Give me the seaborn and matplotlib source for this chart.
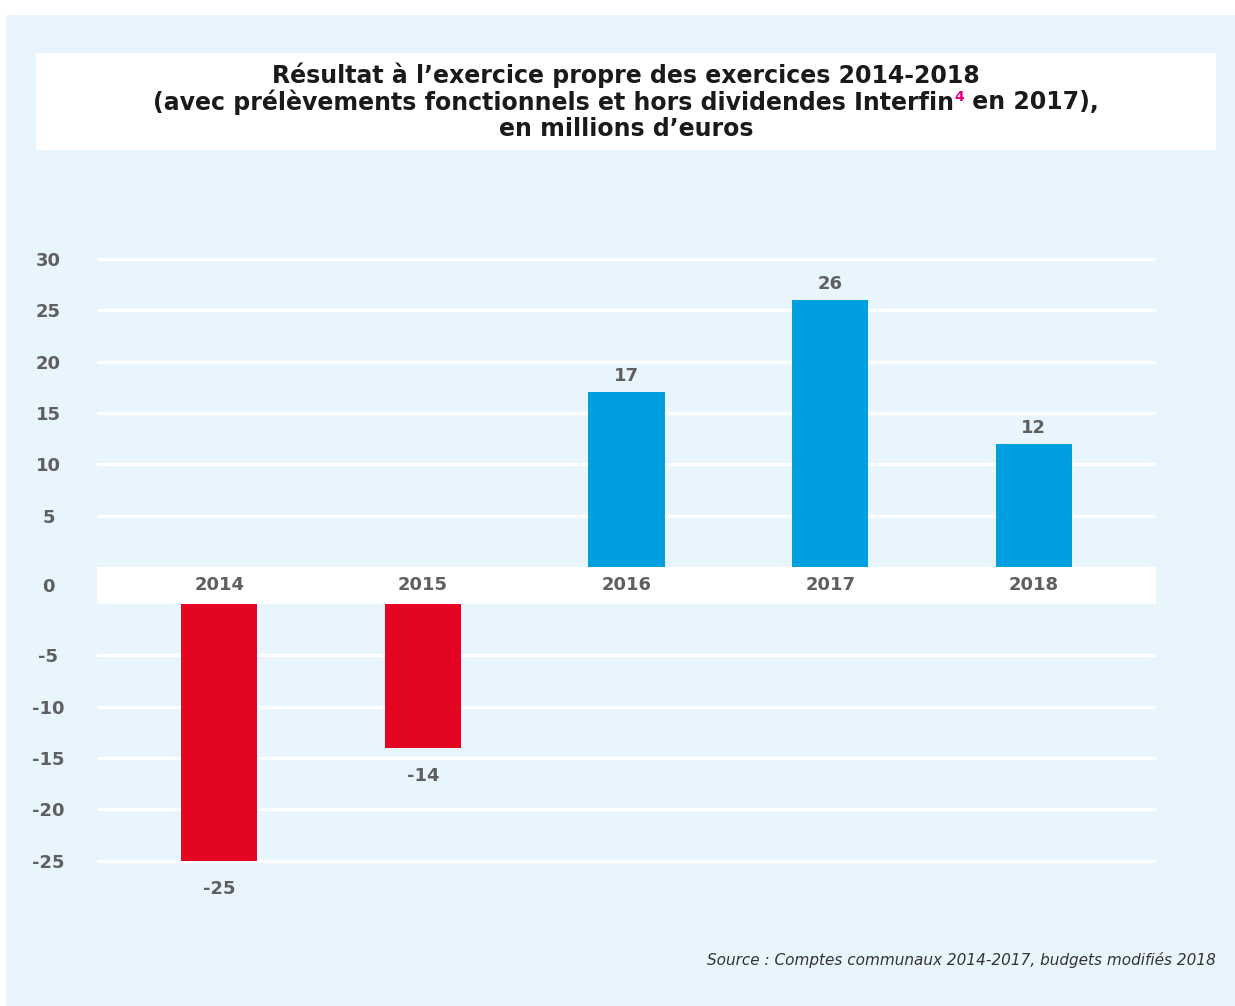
import matplotlib
matplotlib.use("Agg")
import matplotlib.pyplot as plt
from matplotlib.patches import Rectangle
import seaborn as sns
import pandas as pd

# Données : résultat à l'exercice propre, en millions d'euros
years = ["2014", "2015", "2016", "2017", "2018"]
results = [-25, -14, 17, 26, 12]
pos_ticks = [5, 10, 15, 20, 25, 30]
neg_ticks = [-5, -10, -15, -20, -25]

title_line1 = "Résultat à l’exercice propre des exercices 2014-2018"
title_line2a = "(avec prélèvements fonctionnels et hors dividendes Interfin"
title_note = "4"
title_line2b = " en 2017),"
title_line3 = "en millions d’euros"
source_text = "Source : Comptes communaux 2014-2017, budgets modifiés 2018"

BG = "#E9F5FD"
BLUE = "#009FDF"
RED = "#E30521"
GREY = "#5F5F5F"
PINK = "#E6007E"

sns.set_theme(style="white")
plt.rcParams["font.family"] = ["DejaVu Sans"]

df = pd.DataFrame({"annee": years, "resultat": results})
df["signe"] = ["neg" if v < 0 else "pos" for v in results]
palette = {"neg": RED, "pos": BLUE}

W, H = 1235, 1006
fig = plt.figure(figsize=(W / 100, H / 100), dpi=100, facecolor="white")

# Fond bleu clair et cartouche du titre
fig.patches.append(Rectangle((6 / W, 0), 1, 1 - 15 / H, transform=fig.transFigure,
                             facecolor=BG, edgecolor="none", zorder=-10))
fig.patches.append(Rectangle((36 / W, 1 - 150 / H), (1216 - 36) / W, (150 - 53) / H,
                             transform=fig.transFigure, facecolor="white",
                             edgecolor="none", zorder=-5))

left = 97 / W
width = (1156 - 97) / W
px_unit = 10.27
band_top = 567
band_bot = 604

ax_top = fig.add_axes([left, 1 - band_top / H, width, 31 * px_unit / H])
ax_band = fig.add_axes([left, 1 - band_bot / H, width, (band_bot - band_top) / H])
ax_bot_h = 27.5 * px_unit
ax_bot = fig.add_axes([left, 1 - (band_bot + ax_bot_h) / H, width, ax_bot_h / H])

tick_font = dict(fontsize=13, fontweight="bold", color=GREY)

for ax, lim, ticks in [(ax_top, (0, 31), pos_ticks), (ax_bot, (-27.5, 0), neg_ticks)]:
    ax.set_facecolor("none")
    sns.barplot(data=df, x="annee", y="resultat", hue="signe", palette=palette,
                order=years, dodge=False, width=0.375, legend=False, ax=ax,
                saturation=1, linewidth=0, edgecolor="none", zorder=3)
    ax.set_xlim(-0.6, 4.6)
    ax.set_ylim(*lim)
    ax.set_yticks(ticks)
    ax.set_yticklabels([str(t) for t in ticks], **tick_font)
    for lab in ax.get_yticklabels():
        lab.set_horizontalalignment("center")
    ax.tick_params(axis="y", length=0, pad=35)
    ax.set_xticks([])
    ax.set_xlabel("")
    ax.set_ylabel("")
    for t in ticks:
        ax.axhline(t, color="white", lw=2.4, zorder=1)
    for s in ax.spines.values():
        s.set_visible(False)
    for cont in ax.containers:
        heights = [b.get_height() for b in cont]
        if lim[1] > 0 and all(h > 0 for h in heights):
            ax.bar_label(cont, labels=[f"{h:.0f}" for h in heights], padding=5, **tick_font)
        if lim[1] <= 0 and all(h < 0 for h in heights):
            ax.bar_label(cont, labels=[f"{h:.0f}" for h in heights], padding=14, **tick_font)

# Bande blanche de l'axe zéro avec les années
ax_band.set_facecolor("white")
ax_band.set_zorder(5)
ax_band.set_xlim(-0.6, 4.6)
ax_band.set_ylim(0, 1)
ax_band.set_xticks([])
ax_band.set_yticks([0.5])
ax_band.set_yticklabels(["0"], **tick_font)
for lab in ax_band.get_yticklabels():
    lab.set_horizontalalignment("center")
ax_band.tick_params(axis="y", length=0, pad=35)
for s in ax_band.spines.values():
    s.set_visible(False)
for i, y in enumerate(years):
    ax_band.text(i, 0.5, y, ha="center", va="center", **tick_font)

# Titre sur trois lignes, avec renvoi de note en rose
title_font = dict(fontsize=17, fontweight="heavy", color="#1A1A1A")
cx = 626 / W
fig.text(cx, 1 - 75 / H, title_line1, ha="center", va="center", **title_font)
fig.text(cx, 1 - 129 / H, title_line3, ha="center", va="center", **title_font)

renderer = fig.canvas.get_renderer()
y2 = 1 - 102 / H
t_a = fig.text(0, y2, title_line2a, ha="left", va="center", **title_font)
t_n = fig.text(0, y2 + 5 / H, title_note, ha="left", va="center",
               fontsize=10, fontweight="bold", color=PINK)
t_b = fig.text(0, y2, title_line2b, ha="left", va="center", **title_font)
wa = t_a.get_window_extent(renderer).width / W
wn = t_n.get_window_extent(renderer).width / W
wb = t_b.get_window_extent(renderer).width / W
x0 = cx - (wa + wn + wb) / 2
t_a.set_x(x0)
t_n.set_x(x0 + wa)
t_b.set_x(x0 + wa + wn)

fig.text(1216 / W, 1 - 960 / H, source_text, ha="right", va="center",
         fontsize=11, fontstyle="italic", color="#333333")

fig.savefig("out.png", dpi=100, facecolor=fig.get_facecolor())
